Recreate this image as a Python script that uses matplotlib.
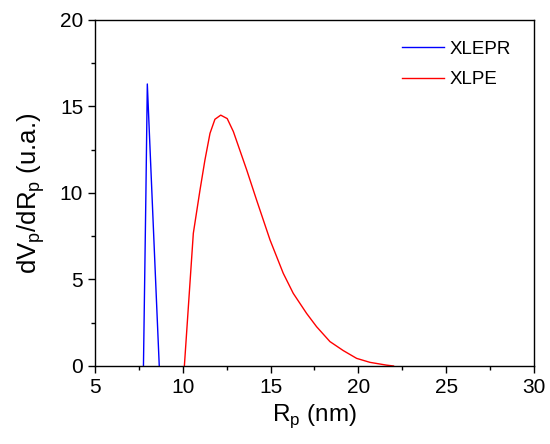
import matplotlib
matplotlib.use("Agg")
import matplotlib.pyplot as plt
from matplotlib.ticker import MultipleLocator

plt.rcParams["font.family"] = ["Liberation Sans", "DejaVu Sans"]

# pore radius distribution
r_xlepr = [7.76, 7.90, 7.98, 8.10, 8.30, 8.50, 8.66]
v_xlepr = [0.0, 10.0, 16.3, 13.4, 8.6, 3.8, 0.0]

r_xlpe = [10.09, 10.6, 10.98, 11.26, 11.55, 11.83, 12.16, 12.53, 12.88,
          13.64, 14.2, 14.97, 15.72, 16.29, 17.05, 17.62, 18.38, 19.14,
          19.9, 20.66, 21.6, 22.0]
v_xlpe = [0.0, 7.67, 10.17, 11.9, 13.45, 14.26, 14.5, 14.3, 13.55,
          11.33, 9.6, 7.28, 5.36, 4.2, 3.04, 2.27, 1.41, 0.89,
          0.44, 0.21, 0.05, 0.0]

fig = plt.figure(figsize=(5.5, 4.44), dpi=100)
ax = fig.add_axes([0.1727, 0.1757, 0.7982, 0.7793])

ax.plot(r_xlepr, v_xlepr, color="blue", lw=1.0, label="XLEPR")
ax.plot(r_xlpe, v_xlpe, color="red", lw=1.0, label="XLPE")

ax.set_xlim(5, 30)
ax.set_ylim(0, 20)
ax.xaxis.set_major_locator(MultipleLocator(5))
ax.xaxis.set_minor_locator(MultipleLocator(2.5))
ax.yaxis.set_major_locator(MultipleLocator(5))
ax.yaxis.set_minor_locator(MultipleLocator(2.5))
ax.tick_params(which="both", direction="out", top=False, right=False,
               labelsize=15, width=1)
ax.tick_params(which="major", length=5)
ax.tick_params(which="minor", length=3)
for s in ax.spines.values():
    s.set_linewidth(1)

ax.set_xlabel(r"R$_\mathregular{p}$ (nm)", fontsize=17.5, labelpad=4)
ax.set_ylabel(r"dV$_\mathregular{p}$/dR$_\mathregular{p}$ (u.a.)", fontsize=18.5,
              labelpad=9)

ax.legend(loc="upper left", frameon=False, fontsize=13.5, handlelength=2.2,
          handletextpad=0.3, labelspacing=0.7, borderpad=0, borderaxespad=0,
          bbox_to_anchor=(0.70, 0.94))

fig.savefig("out.png", dpi=100)
